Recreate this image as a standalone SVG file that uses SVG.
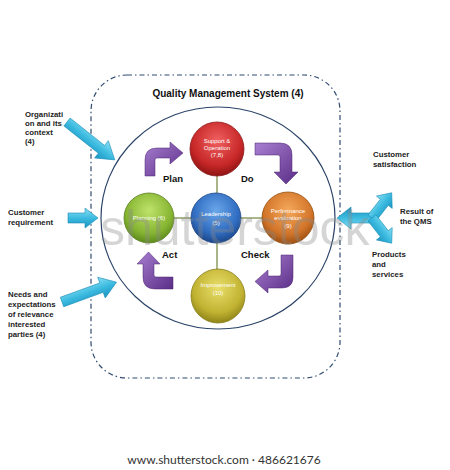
<svg xmlns="http://www.w3.org/2000/svg" width="450" height="470" viewBox="0 0 450 470">
<defs>
<style>
.lbl{font-family:"Liberation Sans",Arial,sans-serif;font-weight:bold;font-size:7.8px;fill:#222}
.pdca{font-family:"Liberation Sans",Arial,sans-serif;font-weight:bold;font-size:9.5px;fill:#111}
.nt{font-family:"Liberation Sans",Arial,sans-serif;font-size:6px;fill:#fff;text-anchor:middle}
.title{font-family:"Liberation Sans",Arial,sans-serif;font-weight:bold;font-size:10px;fill:#111;text-anchor:middle}
.cyan{fill:url(#gCyan);stroke:#1b8fb8;stroke-width:0.6}
.purp{fill:url(#gPurp);stroke:#4a2370;stroke-width:0.5}
.node{stroke-width:0.8}
.link{stroke:#8e9c62;stroke-width:1.5;fill:none}
</style>
<linearGradient id="gCyan" x1="0" y1="0" x2="0" y2="1">
<stop offset="0" stop-color="#8be0f5"/><stop offset="0.5" stop-color="#3cbbe0"/><stop offset="1" stop-color="#1a93c0"/>
</linearGradient>
<linearGradient id="gPurp" x1="0" y1="0" x2="1" y2="1">
<stop offset="0" stop-color="#a77fd0"/><stop offset="1" stop-color="#5b2d87"/>
</linearGradient>
<radialGradient id="gRed" cx="0.5" cy="0.35" r="0.65"><stop offset="0" stop-color="#f06060"/><stop offset="0.7" stop-color="#c72727"/><stop offset="1" stop-color="#8e1414"/></radialGradient>
<radialGradient id="gGreen" cx="0.5" cy="0.35" r="0.65"><stop offset="0" stop-color="#bfe36a"/><stop offset="0.7" stop-color="#86b532"/><stop offset="1" stop-color="#5c8a1c"/></radialGradient>
<radialGradient id="gBlue" cx="0.5" cy="0.35" r="0.65"><stop offset="0" stop-color="#6aa6ea"/><stop offset="0.7" stop-color="#2f6cc0"/><stop offset="1" stop-color="#1c4688"/></radialGradient>
<radialGradient id="gOrange" cx="0.5" cy="0.35" r="0.65"><stop offset="0" stop-color="#f5a85a"/><stop offset="0.7" stop-color="#d2752a"/><stop offset="1" stop-color="#9c4f12"/></radialGradient>
<radialGradient id="gYellow" cx="0.5" cy="0.35" r="0.65"><stop offset="0" stop-color="#e8de6a"/><stop offset="0.7" stop-color="#c1b232"/><stop offset="1" stop-color="#8f8418"/></radialGradient>
</defs>
<rect width="450" height="470" fill="#fff"/>

<g id="qms-boundary">
<rect x="91" y="75" width="249" height="303" rx="36" ry="36" fill="none" stroke="#2f4a70" stroke-width="1.2" stroke-dasharray="5,3,1.5,3"/>
<text class="title" x="228" y="97">Quality Management System (4)</text>
<ellipse cx="218" cy="218" rx="117" ry="111" fill="none" stroke="#2b4468" stroke-width="1.2"/>
</g>

<g id="connectors">
<line class="link" x1="149" y1="218" x2="288" y2="218"/>
<line class="link" x1="217" y1="149" x2="217" y2="296"/>
<path id="arrow-plan" class="purp" d="M145,176 V160 Q145,148 157,148 H170 V142 L183,153 L170,164 V158 H157 Q155,158 155,160 V176 Z"/>
<path id="arrow-do" class="purp" d="M255,143 H280 Q292,143 292,155 V172 H298 L286,184 L274,172 H280 V157 Q280,155 278,155 H255 Z"/>
<path id="arrow-check" class="purp" d="M293,255 V277 Q293,288 282,288 H268 V293 L255,281.5 L268,270 V276 H279 Q281,276 281,274 V255 Z"/>
<path id="arrow-act" class="purp" d="M173,289 H155 Q143,289 143,277 V264 H137 L148.5,252 L160,264 H154 V275 Q154,277 156,277 H173 Z"/>
<polygon id="arrow-context" class="cyan" points="0,-5 44,-5 44,-11 61,0 44,11 44,5 0,5" transform="translate(67,122) rotate(38.4)"/>
<polygon id="arrow-requirement" class="cyan" points="0,-5 17,-5 17,-10 30,0 17,10 17,5 0,5" transform="translate(68,218)"/>
<polygon id="arrow-needs" class="cyan" points="0,-5 42,-5 42,-11 58,0 42,11 42,5 0,5" transform="translate(62,302) rotate(-20)"/>
<polygon id="arrow-result-left" class="cyan" points="0,-5 22,-5 22,-11 36,0 22,11 22,5 0,5" transform="translate(373,218) rotate(180)"/>
<polygon id="arrow-result-up" class="cyan" points="0,-5 20,-5 20,-10 32,0 20,10 20,5 0,5" transform="translate(372,218) rotate(-52)"/>
<polygon id="arrow-result-down" class="cyan" points="0,-5 20,-5 20,-10 32,0 20,10 20,5 0,5" transform="translate(372,218) rotate(52)"/>
</g>

<g id="node-support">
<circle class="node" cx="217" cy="149" r="27" fill="url(#gRed)" stroke="#8a1a1a"/>
<text class="nt" x="217" y="143">Support &amp;</text>
<text class="nt" x="217" y="150">Operation</text>
<text class="nt" x="217" y="157">(7,8)</text>
</g>
<g id="node-planning">
<circle class="node" cx="149" cy="218" r="25" fill="url(#gGreen)" stroke="#5a7f1f"/>
<text class="nt" x="149" y="220">Planning (6)</text>
</g>
<g id="node-leadership">
<circle class="node" cx="216" cy="218" r="25" fill="url(#gBlue)" stroke="#1d4585"/>
<text class="nt" x="216" y="216">Leadership</text>
<text class="nt" x="216" y="225">(5)</text>
</g>
<g id="node-performance">
<circle class="node" cx="288" cy="218" r="26" fill="url(#gOrange)" stroke="#94500f"/>
<text class="nt" x="288" y="213">Performance</text>
<text class="nt" x="288" y="220">evaluation</text>
<text class="nt" x="288" y="228">(9)</text>
</g>
<g id="node-improvement">
<circle class="node" cx="218" cy="296" r="27" fill="url(#gYellow)" stroke="#8a7e1a"/>
<text class="nt" x="218" y="287">Improvement</text>
<text class="nt" x="218" y="295">(10)</text>
</g>

<g id="pdca-labels">
<text class="pdca" x="163" y="182">Plan</text>
<text class="pdca" x="241" y="182">Do</text>
<text class="pdca" x="162" y="258">Act</text>
<text class="pdca" x="241" y="258">Check</text>
</g>

<g id="inputs">
<text class="lbl" x="25" y="117">Organizati</text>
<text class="lbl" x="25" y="126">on and its</text>
<text class="lbl" x="25" y="135">context</text>
<text class="lbl" x="25" y="144">(4)</text>
<text class="lbl" x="8" y="215">Customer</text>
<text class="lbl" x="8" y="225">requirement</text>
<text class="lbl" x="8" y="297">Needs and</text>
<text class="lbl" x="8" y="307">expectations</text>
<text class="lbl" x="8" y="317">of relevance</text>
<text class="lbl" x="8" y="327">interested</text>
<text class="lbl" x="8" y="337">parties (4)</text>
</g>

<g id="outputs">
<text class="lbl" x="373" y="157">Customer</text>
<text class="lbl" x="373" y="167">satisfaction</text>
<text class="lbl" x="400" y="214">Result of</text>
<text class="lbl" x="400" y="224">the QMS</text>
<text class="lbl" x="372" y="257">Products</text>
<text class="lbl" x="372" y="267">and</text>
<text class="lbl" x="372" y="277">services</text>
</g>

<text x="100" y="245" font-family="'Liberation Sans',Arial,sans-serif" font-size="50" fill="#8a8a8a" opacity="0.35">shutterstock</text>
<text x="224" y="464" font-family="Lato,'Liberation Sans',sans-serif" font-size="12" fill="#333" text-anchor="middle">www.shutterstock.com · 486621676</text>
</svg>
